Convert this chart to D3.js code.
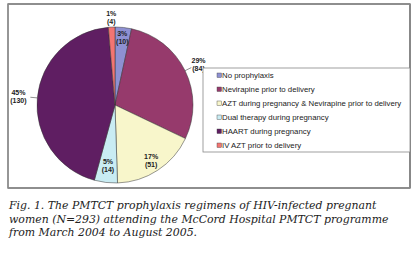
<!DOCTYPE html>
<html>
<head>
<meta charset="utf-8">
<script src="https://cdn.jsdelivr.net/npm/d3@7"></script>
<style>
	body { margin: 0; background: #fff; }
	.lbl { font-family: "Liberation Sans", Arial, sans-serif; font-size: 7px; fill: #222; font-weight: bold; }
	.leg { font-family: "Liberation Sans", Arial, sans-serif; font-size: 7.8px; fill: #222; }
	.cap { font-family: "DejaVu Serif", serif; font-style: italic; font-size: 10.9px; fill: #222; }
</style>
</head>
<body>
<svg width="412" height="264"></svg>
<script>
	// chart data
	var categories = ["No prophylaxis", "Nevirapine  prior to delivery",
		"AZT during pregnancy & Nevirapine prior to delivery", "Dual therapy during pregnancy",
		"HAART during pregnancy", "IV AZT prior to delivery"];
	var counts = [10, 84, 51, 14, 130, 4];
	var percents = ["3%", "29%", "17%", "5%", "45%", "1%"];
	var colors = ["#8e90d2", "#963a6c", "#f8f6cb", "#c9ecf3", "#5f1e62", "#f27572"];
	var caption = ["Fig. 1. The PMTCT prophylaxis regimens of HIV-infected pregnant",
		"women (N=293) attending the McCord Hospital PMTCT programme",
		"from March 2004 to August 2005."];

	var svg = d3.select("svg");

	// outer frame
	svg.append("rect").attr("x", 8).attr("y", 4).attr("width", 402).attr("height", 184)
		.attr("fill", "#fff").attr("stroke", "#444").attr("stroke-width", 1.2);
	svg.append("line").attr("x1", 8).attr("x2", 8).attr("y1", 4).attr("y2", 188)
		.attr("stroke", "#999").attr("stroke-width", 1.5);
	svg.append("line").attr("x1", 410).attr("x2", 410).attr("y1", 4).attr("y2", 188)
		.attr("stroke", "#888").attr("stroke-width", 2);

	var cx = 115, cy = 105, r = 78;
	var pie = d3.pie().sort(null).value(d => d)(counts);
	var arc = d3.arc().innerRadius(0).outerRadius(r);

	var g = svg.append("g").attr("transform", "translate(" + cx + "," + cy + ")");
	g.selectAll("path").data(pie).enter().append("path")
		.attr("d", arc)
		.attr("fill", (d, i) => colors[i])
		.attr("stroke", "#333")
		.attr("stroke-width", 0.5);

	// label distance from centre, per slice
	var labelR = [68, 93, 66, 60, 97, 88];
	var pos = pie.map((d, i) => {
		var a = (d.startAngle + d.endAngle) / 2;
		return [Math.sin(a) * labelR[i], -Math.cos(a) * labelR[i], a];
	});

	// leader lines for the two outside labels
	[1, 4].forEach(i => {
		var a = pos[i][2];
		var x1 = Math.sin(a) * r, y1 = -Math.cos(a) * r;
		var x2 = Math.sin(a) * (r + 7), y2 = -Math.cos(a) * (r + 7);
		g.append("line").attr("x1", x1).attr("y1", y1).attr("x2", x2).attr("y2", y2)
			.attr("stroke", "#444").attr("stroke-width", 0.6);
	});

	var labels = g.selectAll("text.lbl").data(pie).enter().append("text")
		.attr("class", "lbl")
		.attr("text-anchor", "middle")
		.attr("transform", (d, i) => "translate(" + pos[i][0] + "," + pos[i][1] + ")");
	labels.append("tspan").attr("x", 0).attr("y", -1).text((d, i) => percents[i]);
	labels.append("tspan").attr("x", 0).attr("y", 7).text((d, i) => "(" + counts[i] + ")");

	// legend
	var lx = 203, ly = 68;
	svg.append("rect").attr("x", lx).attr("y", ly).attr("width", 207).attr("height", 84)
		.attr("fill", "#fff").attr("stroke", "#888").attr("stroke-width", 0.8);
	var items = svg.selectAll("g.item").data(categories).enter().append("g")
		.attr("transform", (d, i) => "translate(" + (lx + 14) + "," + (ly + 7.5 + i * 14) + ")");
	items.append("rect").attr("x", 0).attr("y", -2.5).attr("width", 4.5).attr("height", 4.5)
		.attr("fill", (d, i) => colors[i]).attr("stroke", "#444").attr("stroke-width", 0.4);
	items.append("text").attr("class", "leg").attr("x", 5).attr("y", 2.8).text(d => d);

	// caption
	svg.selectAll("text.cap").data(caption).enter().append("text")
		.attr("class", "cap")
		.attr("x", 9)
		.attr("y", (d, i) => 209 + i * 13.5)
		.text(d => d);
</script>
</body>
</html>
